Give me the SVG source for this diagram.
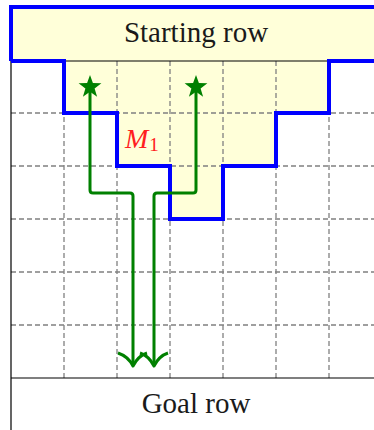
<svg xmlns="http://www.w3.org/2000/svg" width="374" height="430" viewBox="0 0 374 430">
<style>
.grid{stroke:#808080;stroke-width:1.3;stroke-dasharray:5 3;fill:none}
.solid{stroke:#000;stroke-width:1.2;fill:none}
.path{stroke:#008000;stroke-width:3;fill:none;stroke-linejoin:round;stroke-linecap:butt}
.star{fill:#008000;stroke:none}
.lbl{font-family:"Liberation Serif","DejaVu Serif",serif;font-size:29px;fill:#1a1a1a;text-anchor:middle}
.m{font-family:"Liberation Serif","DejaVu Serif",serif;font-style:italic;fill:#ff2020}
</style>
<defs>
<polygon id="st" points="0,-12 2.9,-4 11.4,-3.7 4.6,1.5 7.1,9.7 0,4.8 -7.1,9.7 -4.6,1.5 -11.4,-3.7 -2.9,-4"/>
</defs>
<rect width="374" height="430" fill="#fff"/>
<g id="region">
<path d="M11,61 L11,7 L380,7 L380,61 L329,61 L329,113 L276,113 L276,166 L223,166 L223,219 L170,219 L170,166 L117,166 L117,113 L64,113 L64,61 Z" fill="#ffffd9" stroke="none"/>
</g>
<g id="grid">
<path class="grid" d="M64,61V378M117,61V378M170,61V378M223,61V378M276,61V378M329,61V378"/>
<path class="grid" d="M11,113H374M11,166H374M11,219H374M11,272H374M11,325H374"/>
<path class="solid" d="M11,61V430M11,61H374M11,378H374"/>
</g>
<g id="starting-row">
<path d="M11,61 L11,7 L380,7 M380,61 L329,61 L329,113 L276,113 L276,166 L223,166 L223,219 L170,219 L170,166 L117,166 L117,113 L64,113 L64,61 L11,61" fill="none" stroke="#0000ff" stroke-width="4" stroke-linejoin="miter"/>
<text class="lbl" x="196" y="42">Starting row</text>
</g>
<g id="goal-row">
<text class="lbl" x="196" y="413">Goal row</text>
</g>
<g id="m1-label">
<text class="m" x="125" y="148" font-size="28">M<tspan font-size="19" font-style="normal" dx="1" dy="3">1</tspan></text>
</g>
<g id="connectors">
<path class="path" d="M90,87 V190 Q90,193 93,193 H130 Q133,193 133,196 V365"/>
<path class="path" d="M196,87 V190 Q196,193 193,193 H157 Q154,193 154,196 V365"/>
<path class="path" stroke-linecap="round" d="M118,353 C124,355 130,360 133,366 C136,360 141,355 147,353"/>
<path class="path" stroke-linecap="round" d="M140,353 C146,355 151,360 154,366 C157,360 162,355 168,353"/>
</g>
<g id="star1"><use href="#st" class="star" x="90" y="87"/></g>
<g id="star2"><use href="#st" class="star" x="196" y="87"/></g>
</svg>
